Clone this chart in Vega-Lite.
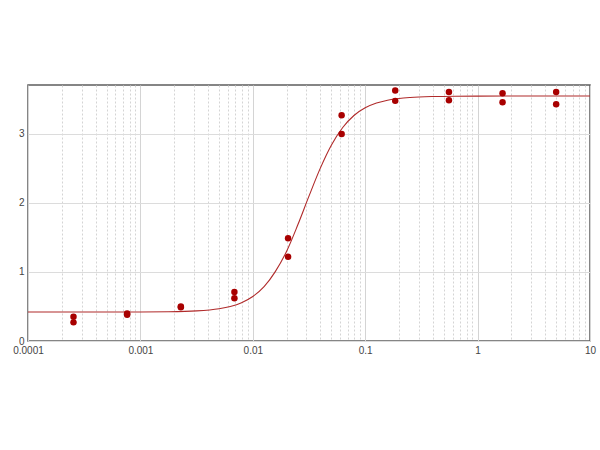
{
  "$schema": "https://vega.github.io/schema/vega-lite/v6.json",
  "width": 562,
  "height": 256,
  "autosize": {"type": "none"},
  "padding": {"left": 28, "top": 85, "right": 10, "bottom": 109},
  "background": "white",
  "datasets": {
    "points": [
      {"conc": 0.000254, "od": 0.35}, {"conc": 0.000254, "od": 0.27},
      {"conc": 0.000762, "od": 0.40}, {"conc": 0.000762, "od": 0.38},
      {"conc": 0.00229, "od": 0.50}, {"conc": 0.00229, "od": 0.49},
      {"conc": 0.00686, "od": 0.71}, {"conc": 0.00686, "od": 0.62},
      {"conc": 0.0206, "od": 1.49}, {"conc": 0.0206, "od": 1.22},
      {"conc": 0.0617, "od": 3.27}, {"conc": 0.0617, "od": 3.00},
      {"conc": 0.185, "od": 3.63}, {"conc": 0.185, "od": 3.48},
      {"conc": 0.556, "od": 3.61}, {"conc": 0.556, "od": 3.49},
      {"conc": 1.667, "od": 3.59}, {"conc": 1.667, "od": 3.46},
      {"conc": 5, "od": 3.61}, {"conc": 5, "od": 3.43}
    ],
    "fit": [
      {"conc": 0.0001, "od": 0.420}, {"conc": 0.000316, "od": 0.420},
      {"conc": 0.001, "od": 0.421}, {"conc": 0.00178, "od": 0.424},
      {"conc": 0.00316, "od": 0.436}, {"conc": 0.00501, "od": 0.467},
      {"conc": 0.00631, "od": 0.500}, {"conc": 0.00794, "od": 0.555},
      {"conc": 0.01, "od": 0.645}, {"conc": 0.0126, "od": 0.787},
      {"conc": 0.0158, "od": 1.002}, {"conc": 0.02, "od": 1.301},
      {"conc": 0.0251, "od": 1.680}, {"conc": 0.0316, "od": 2.099},
      {"conc": 0.0398, "od": 2.502}, {"conc": 0.0501, "od": 2.841},
      {"conc": 0.0631, "od": 3.094}, {"conc": 0.0794, "od": 3.268},
      {"conc": 0.1, "od": 3.379}, {"conc": 0.126, "od": 3.448},
      {"conc": 0.158, "od": 3.490}, {"conc": 0.2, "od": 3.515},
      {"conc": 0.251, "od": 3.529}, {"conc": 0.398, "od": 3.543},
      {"conc": 0.631, "od": 3.548}, {"conc": 1, "od": 3.549},
      {"conc": 3.16, "od": 3.550}, {"conc": 10, "od": 3.550}
    ]
  },
  "encoding": {
    "x": {
      "field": "conc", "type": "quantitative",
      "scale": {"type": "log", "domain": [0.0001, 10], "nice": false},
      "axis": {
        "title": null,
        "values": [0.0001, 0.0002, 0.0003, 0.0004, 0.0005, 0.0006, 0.0007, 0.0008, 0.0009,
                   0.001, 0.002, 0.003, 0.004, 0.005, 0.006, 0.007, 0.008, 0.009,
                   0.01, 0.02, 0.03, 0.04, 0.05, 0.06, 0.07, 0.08, 0.09,
                   0.1, 0.2, 0.3, 0.4, 0.5, 0.6, 0.7, 0.8, 0.9,
                   1, 2, 3, 4, 5, 6, 7, 8, 9, 10],
        "labelExpr": "indexof([0.0001, 0.001, 0.01, 0.1, 1, 10], datum.value) >= 0 ? '' + datum.value : ''",
        "labelOverlap": false,
        "labelFlush": false,
        "labelBound": false,
        "ticks": false,
        "domain": false,
        "labelPadding": 4,
        "grid": true,
        "gridColor": "#d4d4d4",
        "gridDash": {
          "condition": {"test": "indexof([0.0001, 0.001, 0.01, 0.1, 1, 10], datum.value) >= 0", "value": []},
          "value": [2, 2]
        }
      }
    },
    "y": {
      "field": "od", "type": "quantitative",
      "scale": {"domain": [0, 3.71], "nice": false},
      "axis": {
        "title": null,
        "values": [0, 1, 2, 3],
        "ticks": false,
        "domain": false,
        "labelPadding": 4,
        "grid": true,
        "gridColor": "#dcdcdc"
      }
    }
  },
  "layer": [
    {
      "data": {"name": "fit"},
      "mark": {"type": "line", "color": "#b02a2a", "strokeWidth": 1.1, "interpolate": "monotone"}
    },
    {
      "data": {"name": "points"},
      "mark": {"type": "point", "filled": true, "color": "#a80000", "opacity": 1, "size": 42}
    }
  ],
  "config": {
    "view": {"stroke": "#5e5e5e", "strokeWidth": 1.5},
    "axis": {"labelFont": "Liberation Sans", "labelFontSize": 10, "labelColor": "#444444"}
  }
}
